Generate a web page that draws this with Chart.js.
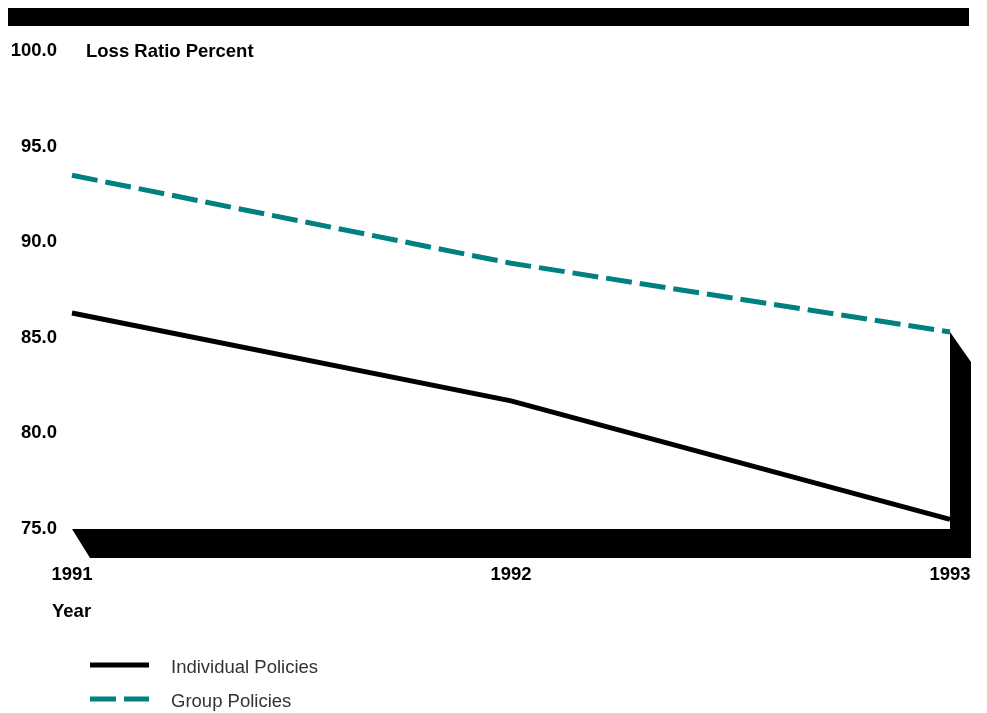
<!DOCTYPE html>
<html>
<head>
<meta charset="utf-8">
<script src="https://cdn.jsdelivr.net/npm/chart.js@4/dist/chart.umd.min.js"></script>
<style>
html,body{margin:0;padding:0;background:#fff;}
#wrap{position:relative;width:987px;height:713px;}
</style>
</head>
<body>
<div id="wrap"><canvas id="c" width="987" height="713"></canvas></div>
<script>
const years = ['1991', '1992', '1993'];
const individualPolicies = [86.3, 81.7, 75.5];
const groupPolicies = [93.5, 88.9, 85.3];
const yTicks = [75, 80, 85, 90, 95, 100];
const yTitle = 'Loss Ratio Percent';
const xTitle = 'Year';
const seriesNames = ['Individual Policies', 'Group Policies'];

const FAMILY = '"Liberation Sans", Arial, sans-serif';
const BOLD = 'bold 18.5px ' + FAMILY;

const decor = {
  id: 'decor',
  beforeDatasetsDraw(chart) {
    const ctx = chart.ctx;
    const x = chart.scales.x, y = chart.scales.y;
    const x0 = x.getPixelForValue(0);
    const x1 = x.getPixelForValue(years.length - 1);
    const yBase = y.getPixelForValue(yTicks[0]);
    const yG = y.getPixelForValue(groupPolicies[groupPolicies.length - 1]);
    ctx.save();
    ctx.fillStyle = '#000';
    // top bar
    ctx.fillRect(8, 8, 961, 18);
    // 3D floor + right wall
    ctx.beginPath();
    ctx.moveTo(x0, yBase);
    ctx.lineTo(x1, yBase);
    ctx.lineTo(x1, yG);
    ctx.lineTo(x1 + 21, yG + 30);
    ctx.lineTo(x1 + 21, yBase + 29);
    ctx.lineTo(x0 + 18, yBase + 29);
    ctx.closePath();
    ctx.fill();
    ctx.restore();
  },
  afterDraw(chart) {
    const ctx = chart.ctx;
    const y = chart.scales.y;
    ctx.save();
    ctx.fillStyle = '#000';
    ctx.font = BOLD;
    ctx.textBaseline = 'middle';
    ctx.textAlign = 'left';
    ctx.fillText(yTitle, 86, y.getPixelForValue(yTicks[yTicks.length - 1]) + 1);
    ctx.fillText(xTitle, 52, 612);
    // legend
    const rows = [665, 699];
    chart.data.datasets.forEach((ds, i) => {
      ctx.beginPath();
      ctx.strokeStyle = ds.borderColor;
      ctx.lineWidth = 5;
      ctx.setLineDash(ds.borderDash || []);
      ctx.moveTo(90, rows[i]);
      ctx.lineTo(149, rows[i]);
      ctx.stroke();
      ctx.setLineDash([]);
      ctx.fillStyle = '#333';
      ctx.font = '18.5px ' + FAMILY;
      ctx.fillText(ds.label, 171, rows[i] + 3);
    });
    ctx.restore();
  }
};

new Chart(document.getElementById('c'), {
  type: 'line',
  data: {
    labels: years,
    datasets: [
      { label: seriesNames[0], data: individualPolicies, borderColor: '#000000', borderWidth: 5, pointRadius: 0, tension: 0, fill: false },
      { label: seriesNames[1], data: groupPolicies, borderColor: '#008080', borderWidth: 5, borderDash: [26, 8], pointRadius: 0, tension: 0, fill: false }
    ]
  },
  options: {
    responsive: false,
    animation: false,
    events: [],
    layout: { padding: { top: 51, right: 37, left: 0, bottom: 0 } },
    plugins: { legend: { display: false }, tooltip: { enabled: false } },
    scales: {
      x: {
        type: 'category',
        offset: false,
        grid: { display: false, drawTicks: false },
        border: { display: false },
        ticks: { color: '#000', font: { family: FAMILY, size: 18.5, weight: 'bold' }, padding: 35, maxRotation: 0, autoSkip: false },
        afterFit(s) { s.height = 184; s.paddingLeft = 0; s.paddingRight = 0; }
      },
      y: {
        min: 75, max: 100,
        afterBuildTicks(s) { s.ticks = yTicks.map(v => ({ value: v })); },
        grid: { display: false, drawTicks: false },
        border: { display: false },
        ticks: { color: '#000', font: { family: FAMILY, size: 18.5, weight: 'bold' }, padding: 15, callback: v => Number(v).toFixed(1) },
        afterFit(s) { s.width = 72; s.paddingTop = 0; s.paddingBottom = 0; }
      }
    }
  },
  plugins: [decor]
});
</script>
</body>
</html>
